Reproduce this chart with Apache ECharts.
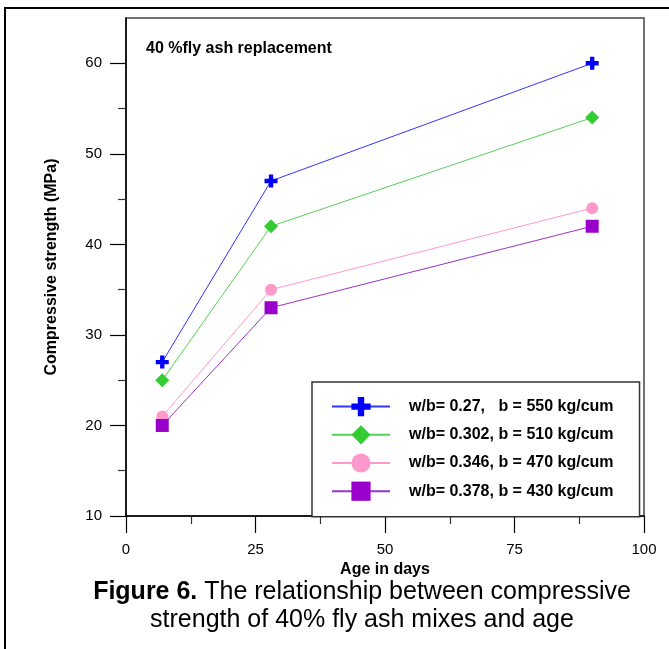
<!DOCTYPE html>
<html>
<head>
<meta charset="utf-8">
<script src="https://cdn.jsdelivr.net/npm/echarts@6/dist/echarts.min.js"></script>
<style>
  html, body { margin: 0; padding: 0; background: #fff; }
  #chart { width: 669px; height: 649px; }
</style>
</head>
<body>
<div id="chart"></div>
<script>
// data
var ages = [7, 28, 90];
var s027 = [27, 47, 60];
var s0302 = [25, 42, 54];
var s0346 = [21, 35, 44];
var s0378 = [20, 33, 42];
var seriesNames = [
    'w/b= 0.27,   b = 550 kg/cum',
    'w/b= 0.302, b = 510 kg/cum',
    'w/b= 0.346, b = 470 kg/cum',
    'w/b= 0.378, b = 430 kg/cum'
];
var yMajorTicks = [10, 20, 30, 40, 50, 60];
var yMinorTicks = [15, 25, 35, 45, 55];

var FONT = 'Arial, "Liberation Sans", sans-serif';
var plusPath = 'path://M4,0H8V4H12V8H8V12H4V8H0V4H4Z';

function pairs(vals) {
    return vals.map(function (v, i) { return [ages[i], v]; });
}

var chart = echarts.init(document.getElementById('chart'));

var option = {
    backgroundColor: '#fff',
    animation: false,
    title: {
        text: '40 %fly ash replacement',
        left: 141,
        top: 36,
        textStyle: { fontFamily: FONT, fontSize: 16, fontWeight: 'bold', color: '#000' }
    },
    grid: {
        left: 126, top: 18, right: 25, bottom: 133,
        show: true, borderColor: '#444', borderWidth: 1.5, backgroundColor: 'transparent'
    },
    legend: {
        orient: 'vertical',
        left: 312,
        top: 382,
        padding: [15, 26, 16, 19],
        borderColor: '#333',
        borderWidth: 1.5,
        backgroundColor: '#fff',
        itemWidth: 58,
        itemHeight: 24,
        itemGap: 9,
        textStyle: { fontFamily: FONT, fontSize: 16, fontWeight: 'bold', color: '#000', padding: [0, 0, 0, 14] },
        data: seriesNames
    },
    xAxis: {
        type: 'value',
        min: 0, max: 100, interval: 25,
        name: 'Age in days',
        nameLocation: 'middle',
        nameGap: 45,
        nameTextStyle: { fontFamily: FONT, fontSize: 16, fontWeight: 'bold', color: '#000' },
        axisLine: { lineStyle: { color: '#000', width: 1.5 } },
        axisTick: { length: 17, lineStyle: { color: '#000', width: 1.2 } },
        minorTick: { show: true, splitNumber: 2, length: 8, lineStyle: { color: '#333', width: 1.2 } },
        axisLabel: { margin: 26, fontFamily: FONT, fontSize: 15, color: '#000' },
        splitLine: { show: false }
    },
    yAxis: [{
        type: 'value',
        min: 10, max: 65,
        name: 'Compressive strength (MPa)',
        nameLocation: 'middle',
        nameGap: 66,
        nameTextStyle: { fontFamily: FONT, fontSize: 16, fontWeight: 'bold', color: '#000' },
        axisLine: { lineStyle: { color: '#000', width: 1.5 } },
        axisTick: { customValues: yMajorTicks, length: 16, lineStyle: { color: '#000', width: 1.2 } },
        axisLabel: { customValues: yMajorTicks, margin: 24, fontFamily: FONT, fontSize: 15, color: '#000' },
        splitLine: { show: false }
    }, {
        type: 'value',
        position: 'left',
        min: 10, max: 65,
        axisLine: { show: false },
        axisTick: { customValues: yMinorTicks, length: 8, lineStyle: { color: '#333', width: 1.2 } },
        axisLabel: { show: false },
        splitLine: { show: false }
    }],
    graphic: [{
        type: 'rect',
        shape: { x: 5, y: 8, width: 720, height: 700 },
        style: { fill: null, stroke: '#000', lineWidth: 2 },
        silent: true
    }, {
        type: 'text',
        x: 362,
        y: 578,
        style: {
            text: '{b|Figure 6.} The relationship between compressive\nstrength of 40% fly ash mixes and age',
            textAlign: 'center',
            font: '25px ' + FONT,
            fill: '#000',
            lineHeight: 28,
            rich: {
                b: { fontFamily: FONT, fontSize: 25, fontWeight: 'bold', fill: '#000', lineHeight: 28 }
            }
        }
    }],
    series: [{
        name: seriesNames[0],
        type: 'line',
        data: pairs(s027),
        symbol: plusPath,
        symbolSize: 13,
        itemStyle: { color: '#0000ff' },
        lineStyle: { color: '#3333ff', width: 1 }
    }, {
        name: seriesNames[1],
        type: 'line',
        data: pairs(s0302),
        symbol: 'diamond',
        symbolSize: 14,
        itemStyle: { color: '#33cc33' },
        lineStyle: { color: '#55d055', width: 1 }
    }, {
        name: seriesNames[2],
        type: 'line',
        data: pairs(s0346),
        symbol: 'circle',
        symbolSize: 12,
        itemStyle: { color: '#ff99cc' },
        lineStyle: { color: '#ff99cc', width: 1 }
    }, {
        name: seriesNames[3],
        type: 'line',
        data: pairs(s0378),
        symbol: 'rect',
        symbolSize: 13,
        itemStyle: { color: '#9900cc' },
        lineStyle: { color: '#9933cc', width: 1 }
    }]
};

chart.setOption(option);
</script>
</body>
</html>
